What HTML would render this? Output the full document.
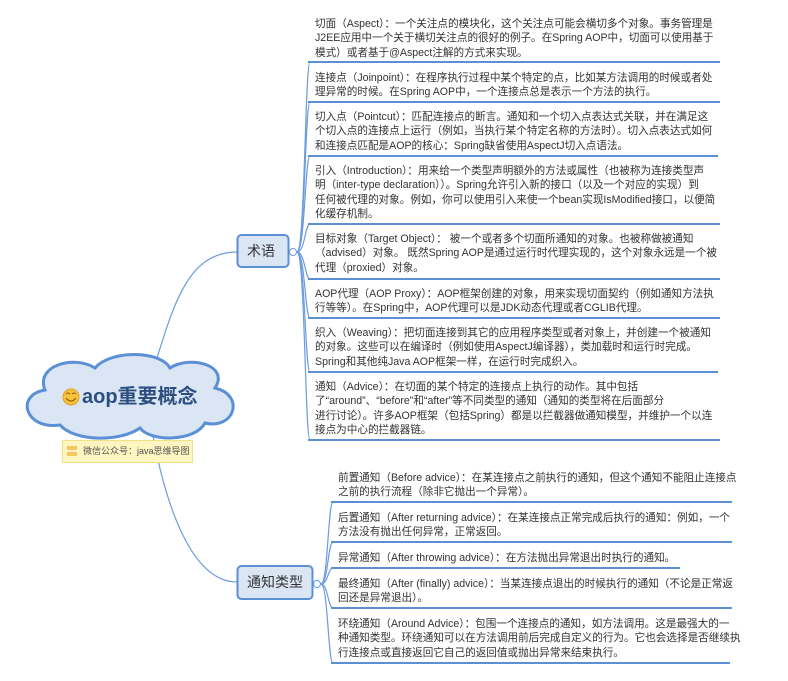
<!DOCTYPE html>
<html><head><meta charset="utf-8"><style>
body{margin:0;width:788px;height:681px;background:#fff;position:relative;overflow:hidden;font-family:"Liberation Sans","Noto Sans CJK SC",sans-serif;}
.t{position:absolute;font-size:10.6px;line-height:14.4px;color:#333;white-space:nowrap;}
svg{position:absolute;left:0;top:0}
</style></head><body>
<svg width="788" height="681" viewBox="0 0 788 681">
<g fill="none" stroke="#6c9be0" stroke-width="1.2">
<path d="M157 358 C 175 300, 190 252, 237 252"/>
<path d="M153 436 C 165 500, 190 582, 237 582"/>
<!-- term brackets -->
<path d="M297 252 C 305 252, 305 62, 310 62"/>
<path d="M297 252 C 305 252, 305 102, 310 102"/>
<path d="M297 252 C 305 252, 305 156, 310 156"/>
<path d="M297 252 C 305 252, 305 224, 310 224"/>
<path d="M297 252 C 305 252, 305 279, 310 279"/>
<path d="M297 252 C 305 252, 305 318, 310 318"/>
<path d="M297 252 C 305 252, 305 372, 310 372"/>
<path d="M297 252 C 305 252, 305 440, 310 440"/>
<path d="M321 584 C 328 584, 328 502, 333 502"/>
<path d="M321 584 C 328 584, 328 542, 333 542"/>
<path d="M321 584 C 328 584, 328 568, 333 568"/>
<path d="M321 584 C 328 584, 328 608, 333 608"/>
<path d="M321 584 C 328 584, 328 663, 333 663"/>
</g>
<g stroke="#5b8fd6" stroke-width="2">
<line x1="308" y1="62" x2="720" y2="62"/>
<line x1="308" y1="102" x2="720" y2="102"/>
<line x1="308" y1="156" x2="718" y2="156"/>
<line x1="308" y1="224" x2="720" y2="224"/>
<line x1="308" y1="279" x2="720" y2="279"/>
<line x1="308" y1="318" x2="720" y2="318"/>
<line x1="308" y1="372" x2="718" y2="372"/>
<line x1="308" y1="440" x2="720" y2="440"/>
<line x1="331" y1="502" x2="732" y2="502"/>
<line x1="331" y1="542" x2="732" y2="542"/>
<line x1="331" y1="568" x2="680" y2="568"/>
<line x1="331" y1="608" x2="732" y2="608"/>
<line x1="331" y1="663" x2="730" y2="663"/>
</g>
<circle cx="293" cy="252" r="3.5" fill="#fff" stroke="#6c9be0"/>
<circle cx="317" cy="584" r="3.5" fill="#fff" stroke="#6c9be0"/>
<rect x="237.5" y="235" width="51" height="32" rx="4" fill="#dbe6f5" stroke="#5b8fd6" stroke-width="2"/>
<rect x="237.5" y="566" width="75" height="33" rx="4" fill="#dbe6f5" stroke="#5b8fd6" stroke-width="2"/>
<path d="M60 425 C 25 430, 15 395, 45 390 C 35 365, 75 355, 95 368 C 110 350, 160 350, 170 368 C 190 355, 230 365, 215 388 C 245 395, 235 430, 205 423 C 195 442, 150 442, 140 428 C 120 442, 75 442, 60 425 Z" fill="#dbe6f5" stroke="#5b8fd6" stroke-width="3"/>
<circle cx="71" cy="397" r="8" fill="#f7c33a" stroke="#e0a020"/>
<path d="M66 398 Q71 404 76 398" fill="none" stroke="#a05a10" stroke-width="1.2"/>
<path d="M66 394 q2 -2 4 0 M72 394 q2 -2 4 0" fill="none" stroke="#a05a10" stroke-width="1"/>
<rect x="62.5" y="440.5" width="130" height="22" fill="#fff5c0" stroke="#f0e08a"/>
<rect x="67" y="446" width="10" height="4" fill="#f7c860"/>
<rect x="67" y="452" width="10" height="4" fill="#f7c860"/>
</svg>
<div class="t" style="left:82px;top:385px;font-size:20px;line-height:24px;font-weight:bold;color:#2d4f80">aop重要概念</div>
<div class="t" style="left:83px;top:445px;font-size:9px;line-height:12px;color:#555">微信公众号：java思维导图</div>
<div class="t" style="left:247px;top:241px;font-size:14px;line-height:20px;color:#333">术语</div>
<div class="t" style="left:247px;top:572px;font-size:14px;line-height:20px;color:#333">通知类型</div>

<div class="t" style="left:315px;top:17px">切面（Aspect）：一个关注点的模块化，这个关注点可能会横切多个对象。事务管理是<br>J2EE应用中一个关于横切关注点的很好的例子。在Spring AOP中，切面可以使用基于<br>模式）或者基于@Aspect注解的方式来实现。</div>
<div class="t" style="left:315px;top:71px">连接点（Joinpoint）：在程序执行过程中某个特定的点，比如某方法调用的时候或者处<br>理异常的时候。在Spring AOP中，一个连接点总是表示一个方法的执行。</div>
<div class="t" style="left:315px;top:110px">切入点（Pointcut）：匹配连接点的断言。通知和一个切入点表达式关联，并在满足这<br>个切入点的连接点上运行（例如，当执行某个特定名称的方法时）。切入点表达式如何<br>和连接点匹配是AOP的核心：Spring缺省使用AspectJ切入点语法。</div>
<div class="t" style="left:315px;top:164px">引入（Introduction）：用来给一个类型声明额外的方法或属性（也被称为连接类型声<br>明（inter-type declaration））。Spring允许引入新的接口（以及一个对应的实现）到<br>任何被代理的对象。例如，你可以使用引入来使一个bean实现IsModified接口，以便简<br>化缓存机制。</div>
<div class="t" style="left:315px;top:232px">目标对象（Target Object）： 被一个或者多个切面所通知的对象。也被称做被通知<br>（advised）对象。 既然Spring AOP是通过运行时代理实现的，这个对象永远是一个被<br>代理（proxied）对象。</div>
<div class="t" style="left:315px;top:287px">AOP代理（AOP Proxy）：AOP框架创建的对象，用来实现切面契约（例如通知方法执<br>行等等）。在Spring中，AOP代理可以是JDK动态代理或者CGLIB代理。</div>
<div class="t" style="left:315px;top:326px">织入（Weaving）：把切面连接到其它的应用程序类型或者对象上，并创建一个被通知<br>的对象。这些可以在编译时（例如使用AspectJ编译器），类加载时和运行时完成。<br>Spring和其他纯Java AOP框架一样，在运行时完成织入。</div>
<div class="t" style="left:315px;top:380px">通知（Advice）：在切面的某个特定的连接点上执行的动作。其中包括<br>了“around”、“before”和“after”等不同类型的通知（通知的类型将在后面部分<br>进行讨论）。许多AOP框架（包括Spring）都是以拦截器做通知模型，并维护一个以连<br>接点为中心的拦截器链。</div>

<div class="t" style="left:338px;top:471px">前置通知（Before advice）：在某连接点之前执行的通知，但这个通知不能阻止连接点<br>之前的执行流程（除非它抛出一个异常）。</div>
<div class="t" style="left:338px;top:511px">后置通知（After returning advice）：在某连接点正常完成后执行的通知：例如，一个<br>方法没有抛出任何异常，正常返回。</div>
<div class="t" style="left:338px;top:551px">异常通知（After throwing advice）：在方法抛出异常退出时执行的通知。</div>
<div class="t" style="left:338px;top:577px">最终通知（After (finally) advice）：当某连接点退出的时候执行的通知（不论是正常返<br>回还是异常退出）。</div>
<div class="t" style="left:338px;top:617px">环绕通知（Around Advice）：包围一个连接点的通知，如方法调用。这是最强大的一<br>种通知类型。环绕通知可以在方法调用前后完成自定义的行为。它也会选择是否继续执<br>行连接点或直接返回它自己的返回值或抛出异常来结束执行。</div>
</body></html>
